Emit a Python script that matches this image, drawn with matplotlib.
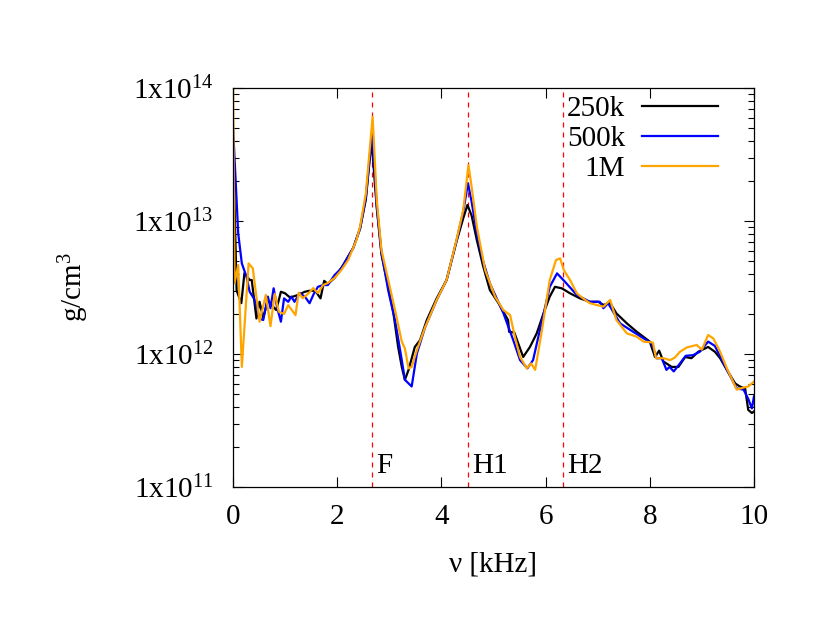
import matplotlib
matplotlib.use('Agg')
import matplotlib.pyplot as plt
import numpy as np
from matplotlib.ticker import LogLocator, FixedLocator, NullFormatter

plt.rcParams['font.family'] = ['Liberation Serif', 'DejaVu Serif']
plt.rcParams['mathtext.fontset'] = 'custom'
plt.rcParams['mathtext.rm'] = 'Liberation Serif'
plt.rcParams['mathtext.it'] = 'Liberation Serif'
plt.rcParams['mathtext.default'] = 'regular'

# density spectra, y in units of 1e12 g/cm^3, x in kHz
x_250k = [0, 0.07, 0.16, 0.22, 0.32, 0.36, 0.45, 0.51, 0.58, 0.67, 0.77, 0.83, 0.92, 1.00,
          1.09, 1.15, 1.25, 1.38, 1.47, 1.58, 1.68, 1.75, 1.82, 1.95, 2.12, 2.31, 2.44, 2.55,
          2.66, 2.76, 2.85, 2.98, 3.08, 3.17, 3.24, 3.30, 3.37, 3.49, 3.59, 3.72, 3.91, 4.10,
          4.29, 4.42, 4.50, 4.58, 4.68, 4.80, 4.93, 5.10, 5.28, 5.30, 5.40, 5.57, 5.70, 5.83,
          5.96, 6.08, 6.18, 6.31, 6.47, 6.66, 6.85, 7.01, 7.11, 7.24, 7.36, 7.56, 7.75, 8.00,
          8.10, 8.18, 8.26, 8.42, 8.55, 8.68, 8.80, 8.93, 9.12, 9.25, 9.35, 9.48, 9.64, 9.73,
          9.83, 9.89, 9.96, 10.0]
y_250k = [40, 3.0, 2.41, 4.06, 3.6, 3.6, 1.85, 2.47, 1.87, 2.55, 2.27, 2.14, 2.94, 2.86,
          2.67, 2.70, 2.78, 2.94, 2.99, 2.99, 2.62, 3.55, 3.36, 3.73, 4.7, 6.3, 8.8, 14.5,
          40.6, 12.5, 5.6, 3.2, 2.02, 1.13, 0.80, 0.64, 0.76, 1.13, 1.27, 1.80, 2.62, 3.6,
          7.0, 10.5, 13.2, 11.0, 7.2, 4.6, 3.03, 2.4, 1.80, 1.47, 1.45, 0.95, 1.13, 1.43,
          2.02, 2.70, 3.2, 3.12, 2.86, 2.62, 2.47, 2.47, 2.34, 2.41, 2.02, 1.70, 1.47, 1.24,
          0.95, 1.06, 0.88, 0.80, 0.80, 0.95, 0.93, 1.04, 1.13, 1.04, 0.93, 0.76, 0.60, 0.57,
          0.55, 0.38, 0.36, 0.37]

x_500k = [0, 0.10, 0.17, 0.26, 0.32, 0.42, 0.51, 0.58, 0.67, 0.72, 0.78, 0.85, 0.92, 0.98,
          1.06, 1.12, 1.18, 1.28, 1.38, 1.47, 1.55, 1.63, 1.73, 1.82, 1.95, 2.08, 2.31, 2.44,
          2.55, 2.67, 2.76, 2.85, 2.98, 3.11, 3.24, 3.30, 3.43, 3.53, 3.69, 3.91, 4.10, 4.29,
          4.42, 4.51, 4.58, 4.68, 4.80, 4.93, 5.19, 5.38, 5.51, 5.65, 5.76, 5.89, 6.08, 6.22,
          6.37, 6.60, 6.85, 7.04, 7.11, 7.20, 7.43, 7.68, 8.04, 8.13, 8.23, 8.32, 8.38, 8.46,
          8.58, 8.69, 8.83, 8.96, 9.12, 9.25, 9.48, 9.67, 9.80, 9.89, 9.96, 10.0]
y_500k = [52, 8.1, 4.8, 3.81, 2.94, 2.55, 1.85, 1.80, 2.70, 2.21, 3.12, 2.21, 1.75, 2.62,
          2.47, 2.70, 2.47, 2.86, 2.70, 2.41, 2.83, 3.2, 3.30, 3.3, 3.92, 4.41, 6.3, 8.8,
          15, 46.8, 13, 5.8, 3.0, 1.8, 0.9, 0.64, 0.57, 1.01, 1.6, 2.55, 3.6, 7.1,
          11.8, 19.2, 14, 8.07, 5.0, 3.4, 2.03, 1.27, 0.90, 0.78, 0.90, 1.51, 3.2, 4.04,
          3.5, 2.78, 2.47, 2.47, 2.21, 2.41, 1.70, 1.47, 1.20, 0.93, 0.93, 0.76, 0.80, 0.74,
          0.85, 0.97, 0.98, 1.04, 1.24, 1.15, 0.76, 0.55, 0.54, 0.46, 0.39, 0.48]

x_1M = [0, 0.03, 0.10, 0.17, 0.30, 0.38, 0.51, 0.63, 0.72, 0.80, 0.88, 0.98, 1.06, 1.20,
        1.26, 1.34, 1.44, 1.54, 1.63, 1.73, 1.82, 1.95, 2.08, 2.21, 2.37, 2.44, 2.55, 2.68,
        2.76, 2.85, 2.98, 3.11, 3.24, 3.30, 3.37, 3.43, 3.53, 3.69, 3.91, 4.10, 4.29, 4.42,
        4.52, 4.58, 4.68, 4.84, 5.03, 5.19, 5.32, 5.41, 5.51, 5.64, 5.72, 5.80, 5.92, 6.08,
        6.20, 6.28, 6.35, 6.47, 6.60, 6.72, 6.85, 7.11, 7.24, 7.36, 7.56, 7.75, 7.88, 8.06,
        8.12, 8.26, 8.39, 8.48, 8.58, 8.71, 8.90, 9.00, 9.12, 9.22, 9.35, 9.48, 9.67, 9.80,
        9.89, 10.0]
y_1M = [150, 3.42, 4.67, 0.80, 4.80, 4.41, 1.75, 2.78, 1.62, 2.83, 2.08, 2.0, 2.33, 1.96,
        2.89, 2.63, 2.83, 3.13, 2.87, 3.30, 3.42, 3.73, 4.28, 5.09, 7.2, 9.1, 16.1, 60.7,
        14.4, 6.05, 3.6, 2.14, 1.24, 1.10, 0.78, 0.80, 1.07, 1.60, 2.55, 3.6, 7.2, 12.1,
        26.3, 18.1, 9.1, 4.28, 2.70, 2.14, 1.96, 1.35, 0.95, 0.78, 0.85, 0.76, 1.43, 3.6,
        5.09, 5.24, 4.28, 3.6, 2.86, 2.62, 2.41, 2.27, 2.55, 1.80, 1.43, 1.35, 1.24, 1.22,
        0.93, 0.93, 0.90, 0.94, 1.04, 1.12, 1.17, 1.08, 1.39, 1.31, 1.04, 0.78, 0.54, 0.56,
        0.57, 0.62]

modes = ['F', 'H1', 'H2']
mode_freqs = [2.67, 4.51, 6.33]

fs = 21

fig = plt.figure(figsize=(8.3, 6.42), dpi=100)
ax = fig.add_axes([0.2807, 0.2414, 0.6277, 0.6215])

for mf, name in zip(mode_freqs, modes):
    ax.axvline(mf, color='red', lw=0.9, ls=(0, (4, 4)))
    ax.text(mf + 0.08, 0.02, name, transform=ax.get_xaxis_transform(),
            fontsize=fs, ha='left', va='bottom')

ax.plot(x_250k, np.array(y_250k) * 1e12, color='black', lw=1.6, label='250k')
ax.plot(x_500k, np.array(y_500k) * 1e12, color='#0000ff', lw=1.6, label='500k')
ax.plot(x_1M, np.array(y_1M) * 1e12, color='#ffa500', lw=1.6, label='1M')

ax.set_yscale('log')
ax.set_xlim(0, 10)
ax.set_ylim(1e11, 1e14)
ax.xaxis.set_major_locator(FixedLocator([0, 2, 4, 6, 8, 10]))
ax.yaxis.set_major_locator(FixedLocator([1e11, 1e12, 1e13, 1e14]))
ax.set_yticklabels([r'1x10$^{11}$', r'1x10$^{12}$', r'1x10$^{13}$', r'1x10$^{14}$'])
ax.yaxis.set_minor_locator(LogLocator(base=10, subs=np.arange(2, 10), numticks=20))
ax.yaxis.set_minor_formatter(NullFormatter())

ax.tick_params(which='both', direction='in', top=True, right=True, width=0.8)
ax.tick_params(which='major', length=7, labelsize=fs)
ax.tick_params(axis='x', which='major', pad=12)
ax.tick_params(axis='y', which='major', pad=14)
ax.tick_params(which='minor', length=4)
for s in ax.spines.values():
    s.set_linewidth(0.9)

ax.set_xlabel('ν [kHz]', fontsize=fs, labelpad=16)
ax.set_ylabel('g/cm$^3$', fontsize=fs, labelpad=30)

ax.legend(loc='upper right', bbox_to_anchor=(0.965, 1.025), frameon=False,
          markerfirst=False, fontsize=fs, handlelength=2.6, handletextpad=0.6,
          labelspacing=0.12, borderaxespad=0.2)

fig.savefig('out.png', dpi=100)
